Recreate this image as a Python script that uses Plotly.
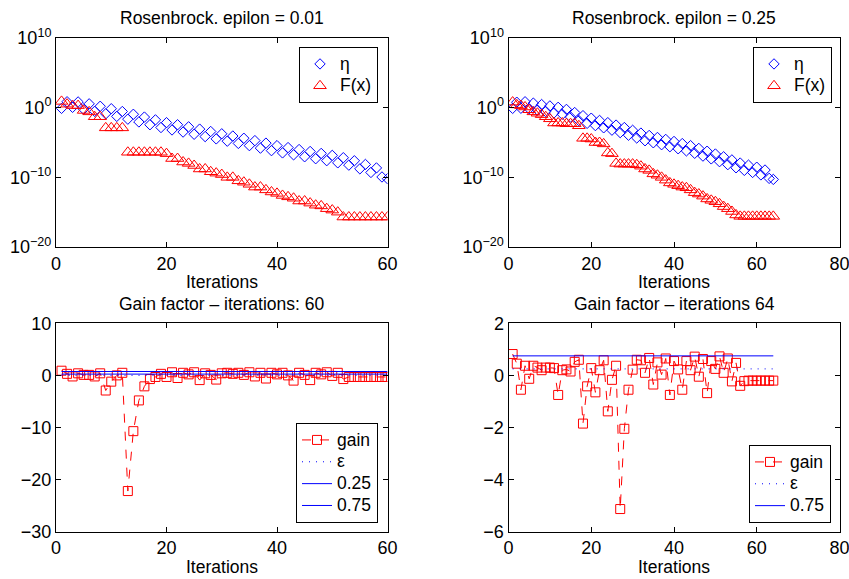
import numpy as np
import plotly.graph_objects as go

# ---------------- data ----------------
# log10 of eta and F(x), epsilon = 0.01 run (60 iterations)
eta1_log10 = [-0.1, 0.85, 0.05, 0.82, -0.22, 0.55, -0.53, 0.2, -0.88, -0.15,
              -1.25, -0.55, -1.65, -0.95, -2.05, -1.35, -2.45, -1.75, -2.85, -2.15,
              -3.2, -2.45, -3.5, -2.75, -3.82, -3.08, -4.15, -3.42, -4.48, -3.75,
              -4.81, -4.07, -5.13, -4.39, -5.45, -4.73, -5.81, -5.09, -6.17, -5.45,
              -6.49, -5.73, -6.77, -6.01, -7.05, -6.29, -7.33, -6.57, -7.61, -6.85,
              -7.92, -7.18, -8.25, -7.62, -8.78, -8.15, -9.3, -8.65, -9.95, -10.2]
F1_log10 = [0.9, 0.5, 0.3, 0.3, -0.4, -0.6, -1.3, -1.3, -2.9, -2.9,
            -2.9, -2.9, -6.4, -6.4, -6.4, -6.4, -6.4, -6.4, -6.4, -6.6,
            -7.3, -7.3, -7.8, -8.0, -8.3, -8.8, -8.8, -9.2, -9.4, -9.6,
            -10.0, -10.0, -10.5, -10.7, -11.0, -11.4, -11.4, -11.8, -12.1, -12.3,
            -12.6, -12.8, -13.0, -13.4, -13.4, -13.7, -14.0, -14.1, -14.5, -14.7,
            -15.0, -15.7, -15.7, -15.7, -15.7, -15.7, -15.7, -15.7, -15.7, -15.7]

# epsilon = 0.25 run (64 iterations)
eta2_log10 = [-0.1, 0.78, -0.08, 0.85, -0.15, 0.65, -0.35, 0.45, -0.55, 0.25,
              -0.75, 0.05, -0.95, -0.25, -1.35, -0.7, -1.85, -1.15, -2.25, -1.51,
              -2.57, -1.83, -2.89, -2.15, -3.23, -2.5, -3.58, -2.85, -3.95, -3.25,
              -4.35, -3.65, -4.75, -3.99, -5.04, -4.28, -5.32, -4.56, -5.61, -4.85,
              -5.9, -5.15, -6.2, -5.45, -6.55, -5.85, -6.95, -6.25, -7.35, -6.65,
              -7.75, -7.05, -8.18, -7.5, -8.63, -7.95, -9.0, -8.25, -9.3, -8.55,
              -9.65, -8.95, -10.15, -10.3]
F2_log10 = [0.8, 0.4, 0.3, 0.1, -0.3, -0.6, -0.8, -1.0, -1.3, -1.6,
            -2.2, -2.2, -2.2, -2.3, -2.3, -2.3, -2.6, -4.4, -4.4, -4.5,
            -5.0, -5.0, -5.2, -6.5, -6.6, -8.0, -8.1, -8.1, -8.1, -8.1,
            -8.2, -8.4, -8.8, -9.0, -9.5, -9.7, -10.0, -10.4, -10.8, -11.0,
            -11.2, -11.4, -11.5, -11.8, -12.2, -12.4, -12.7, -13.1, -13.3, -13.5,
            -13.8, -14.2, -14.5, -14.9, -15.4, -15.6, -15.6, -15.6, -15.6, -15.6,
            -15.6, -15.6, -15.6, -15.6]

gain1 = [0.9, 0.3, -0.2, 0.4, 0.1, 0.1, -0.2, 0.4, -2.9, -1.2,
         0.0, 0.5, -22.2, -10.7, -4.8, -2.1, -0.7, -0.3, 0.3, -0.3,
         0.6, -0.5, 0.5, 0.2, 0.6, -0.9, 0.4, 0.1, -0.8, 0.4,
         0.5, 0.3, 0.5, 0.1, 0.6, -0.2, 0.5, -0.6, 0.5, 0.2,
         0.5, 0.0, -1.0, 0.5, 0.1, -0.9, 0.5, 0.2, 0.6, -0.1,
         0.5, -0.7, -0.3, -0.3, -0.3, -0.3, -0.3, -0.3, -0.3, -0.3]
gain2 = [0.82, 0.45, -0.55, 0.37, -0.13, 0.37, 0.3, 0.2, 0.3, 0.3,
         0.28, -0.75, 0.2, 0.23, 0.15, 0.52, 0.6, -1.85, -0.42, 0.28,
         -0.65, 0.2, 0.58, -1.38, -0.17, 0.37, -5.13, -2.05, -0.55, 0.22,
         0.6, 0.58, 0.1, 0.67, -0.35, 0.5, 0.03, 0.65, -0.75, 0.55,
         0.23, -0.55, 0.55, 0.2, 0.72, -0.05, 0.63, -0.68, 0.55, 0.25,
         0.73, 0.1, 0.65, -0.23, 0.48, -0.4, -0.22, -0.2, -0.2, -0.2,
         -0.2, -0.2, -0.2, -0.2]

eps1 = 0.01
eps2 = 0.25
thresholds1 = [0.25, 0.75]
thresholds2 = [0.75]

iters1 = list(range(1, len(gain1) + 1))
iters2 = list(range(1, len(gain2) + 1))

log_tickvals = [1e-20, 1e-10, 1, 1e10]
log_ticktext = ["10<sup>−20</sup>", "10<sup>−10</sup>", "10<sup>0</sup>", "10<sup>10</sup>"]

titles = ["Rosenbrock. epilon = 0.01", "Rosenbrock. epilon = 0.25",
          "Gain factor – iterations: 60", "Gain factor – iterations 64"]

# ---------------- figure ----------------
FONT = "Liberation Sans, Arial, Helvetica, sans-serif"
RED = "#ff0000"
BLUE = "#0000ff"
DOT = "1px,6px"


def lg(name):
    # legend label rendered at full size while the legend row pitch stays compact
    return "<span style='font-size:17.5px'>%s</span>" % name


fig = go.Figure()

eta1 = np.power(10.0, eta1_log10)
F1 = np.power(10.0, F1_log10)
eta2 = np.power(10.0, eta2_log10)
F2 = np.power(10.0, F2_log10)

DIA = dict(symbol="diamond-open", size=8, color=BLUE, line=dict(width=1))
TRI = dict(symbol="triangle-up-open", size=11, color=RED, line=dict(width=1))
SQR = dict(symbol="square-open", size=9, color=RED, line=dict(width=1))

# top-left
fig.add_trace(go.Scatter(x=iters1, y=eta1, mode="markers", name=lg("η"), marker=DIA,
                         xaxis="x", yaxis="y", legend="legend"))
fig.add_trace(go.Scatter(x=iters1, y=F1, mode="markers", name=lg("F(x)"), marker=TRI,
                         xaxis="x", yaxis="y", legend="legend"))
# top-right
fig.add_trace(go.Scatter(x=iters2, y=eta2, mode="markers", name=lg("η"), marker=DIA,
                         xaxis="x2", yaxis="y2", legend="legend2"))
fig.add_trace(go.Scatter(x=iters2, y=F2, mode="markers", name=lg("F(x)"), marker=TRI,
                         xaxis="x2", yaxis="y2", legend="legend2"))
# bottom-left
fig.add_trace(go.Scatter(x=iters1, y=gain1, mode="lines+markers", name=lg("gain"),
                         line=dict(color=RED, width=1, dash="dash"), marker=SQR,
                         xaxis="x3", yaxis="y3", legend="legend3"))
fig.add_trace(go.Scatter(x=[iters1[0], iters1[-1]], y=[eps1, eps1], mode="lines", name=lg("ε"),
                         line=dict(color=BLUE, width=1, dash=DOT),
                         xaxis="x3", yaxis="y3", legend="legend3"))
for t in thresholds1:
    fig.add_trace(go.Scatter(x=[iters1[0], iters1[-1]], y=[t, t], mode="lines", name=lg(str(t)),
                             line=dict(color=BLUE, width=1),
                             xaxis="x3", yaxis="y3", legend="legend3"))
# bottom-right
fig.add_trace(go.Scatter(x=iters2, y=gain2, mode="lines+markers", name=lg("gain"),
                         line=dict(color=RED, width=1, dash="dash"), marker=SQR,
                         xaxis="x4", yaxis="y4", legend="legend4"))
fig.add_trace(go.Scatter(x=[iters2[0], iters2[-1]], y=[eps2, eps2], mode="lines", name=lg("ε"),
                         line=dict(color=BLUE, width=1, dash=DOT),
                         xaxis="x4", yaxis="y4", legend="legend4"))
for t in thresholds2:
    fig.add_trace(go.Scatter(x=[iters2[0], iters2[-1]], y=[t, t], mode="lines", name=lg(str(t)),
                             line=dict(color=BLUE, width=1),
                             xaxis="x4", yaxis="y4", legend="legend4"))

W, H = 849, 579
xdomL = [56 / W, 387.5 / W]
xdomR = [508.5 / W, 839.5 / W]
ydomT = [1 - 247 / H, 1 - 38 / H]
ydomB = [1 - 531.7 / H, 1 - 323.3 / H]

axis_common = dict(showgrid=False, zeroline=False, showline=True, mirror="allticks",
                   linecolor="black", linewidth=1, ticks="inside", ticklen=5,
                   tickcolor="black", automargin=False, ticklabeloverflow="allow",
                   tickfont=dict(size=18, color="black", family=FONT))

legend_common = dict(bgcolor="white", bordercolor="black", borderwidth=1,
                     font=dict(size=14.5, color="black", family=FONT),
                     itemwidth=30, tracegroupgap=0)

fig.update_layout(
    template="none",
    width=W, height=H, margin=dict(l=0, r=0, t=0, b=0, pad=0, autoexpand=False),
    paper_bgcolor="white", plot_bgcolor="white",
    font=dict(family=FONT, size=17.5, color="black"),
    xaxis=dict(domain=xdomL, range=[0, 60], tickvals=[0, 20, 40, 60], anchor="y", **axis_common),
    yaxis=dict(domain=ydomT, type="log", range=[-20, 10], tickvals=log_tickvals,
               ticktext=log_ticktext, anchor="x", **axis_common),
    xaxis2=dict(domain=xdomR, range=[0, 80], tickvals=[0, 20, 40, 60, 80], anchor="y2", **axis_common),
    yaxis2=dict(domain=ydomT, type="log", range=[-20, 10], tickvals=log_tickvals,
                ticktext=log_ticktext, anchor="x2", **axis_common),
    xaxis3=dict(domain=xdomL, range=[0, 60], tickvals=[0, 20, 40, 60], anchor="y3", **axis_common),
    yaxis3=dict(domain=ydomB, range=[-30, 10], tickvals=[-30, -20, -10, 0, 10], anchor="x3", **axis_common),
    xaxis4=dict(domain=xdomR, range=[0, 80], tickvals=[0, 20, 40, 60, 80], anchor="y4", **axis_common),
    yaxis4=dict(domain=ydomB, range=[-6, 2], tickvals=[-6, -4, -2, 0, 2], anchor="x4", **axis_common),
    legend=dict(x=378 / W, y=1 - 47 / H, xanchor="right", yanchor="top", **legend_common),
    legend2=dict(x=832 / W, y=1 - 47 / H, xanchor="right", yanchor="top", **legend_common),
    legend3=dict(x=378 / W, y=1 - 523 / H, xanchor="right", yanchor="bottom", **legend_common),
    legend4=dict(x=831 / W, y=1 - 523 / H, xanchor="right", yanchor="bottom", **legend_common),
    showlegend=True,
)

cxL = (xdomL[0] + xdomL[1]) / 2
cxR = (xdomR[0] + xdomR[1]) / 2
ann = []
for (cx, ty, txt) in [(cxL, 18, titles[0]), (cxR, 18, titles[1]),
                      (cxL, 304, titles[2]), (cxR, 304, titles[3]),
                      (cxL, 282, "Iterations"), (cxR, 282, "Iterations"),
                      (cxL, 567, "Iterations"), (cxR, 567, "Iterations")]:
    ann.append(dict(x=cx, y=1 - ty / H, xref="paper", yref="paper", text=txt,
                    showarrow=False, xanchor="center", yanchor="middle",
                    font=dict(size=17.5, color="black", family=FONT)))
fig.update_layout(annotations=ann)

fig.write_html(
    "out.html",
    config={"displayModeBar": False},
    post_script="document.body.style.margin='0';document.body.style.padding='0';"
                "document.body.style.overflow='hidden';",
)
